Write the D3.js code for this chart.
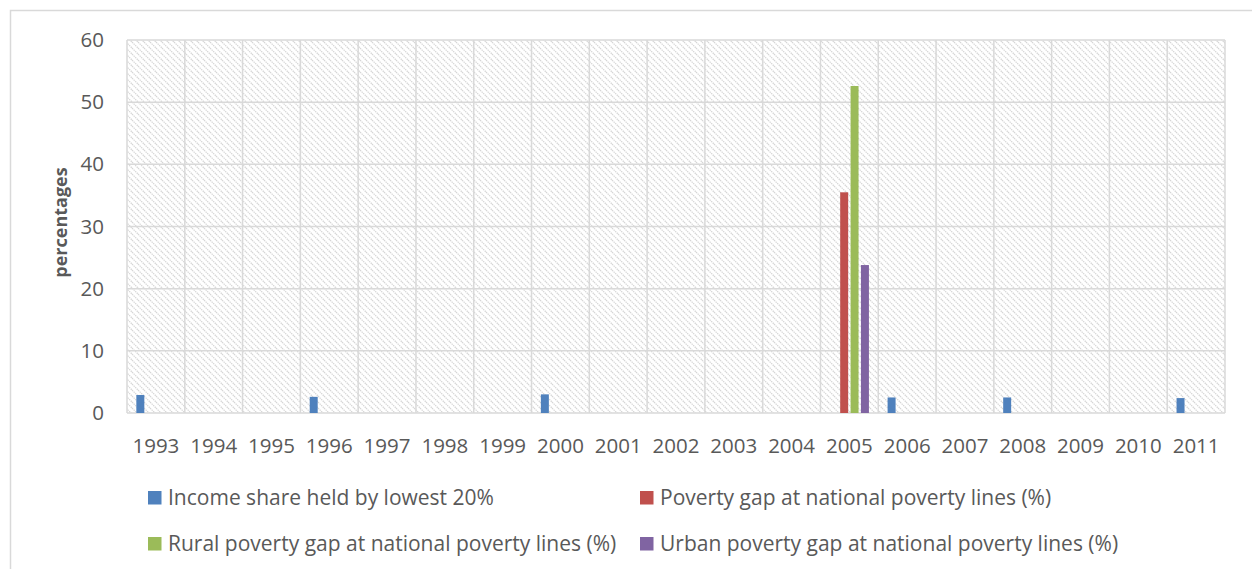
<!DOCTYPE html>
<html>
<head>
<meta charset="utf-8">
<script src="https://cdn.jsdelivr.net/npm/d3@7"></script>
<style>
  html, body { margin: 0; padding: 0; background: #fff; }
  svg { display: block; }
  text { font-family: "Open Sans", "Noto Sans", sans-serif; fill: #595959; }
</style>
</head>
<body>
<svg id="chart" width="1252" height="569"></svg>
<script>
// Years on the category axis
const years = ["1993","1994","1995","1996","1997","1998","1999","2000","2001","2002",
               "2003","2004","2005","2006","2007","2008","2009","2010","2011"];

// Series names and colours
const seriesNames = [
  "Income share held by lowest 20%",
  "Poverty gap at national poverty lines (%)",
  "Rural poverty gap at national poverty lines (%)",
  "Urban poverty gap at national poverty lines (%)"
];
const seriesColors = ["#4f81bd", "#c0504d", "#9bbb59", "#8064a2"];

// Values per year (null = no observation)
const incomeShareLowest20 = [2.9,null,null,2.6,null,null,null,3.0,null,null,null,null,null,2.5,null,2.5,null,null,2.4];
const povertyGapNational  = [null,null,null,null,null,null,null,null,null,null,null,null,35.5,null,null,null,null,null,null];
const povertyGapRural     = [null,null,null,null,null,null,null,null,null,null,null,null,52.6,null,null,null,null,null,null];
const povertyGapUrban     = [null,null,null,null,null,null,null,null,null,null,null,null,23.8,null,null,null,null,null,null];

const yTicks = [0, 10, 20, 30, 40, 50, 60];

const seriesValues = [incomeShareLowest20, povertyGapNational, povertyGapRural, povertyGapUrban];

const svg = d3.select("#chart");
const W = 1252, H = 569;
const plot = { left: 127, top: 40, right: 1225, bottom: 413 };
const FONT = 20.5;

// Outer chart frame (extends past the canvas on right/bottom)
svg.append("rect")
  .attr("x", 10.5).attr("y", 10.5)
  .attr("width", W + 20).attr("height", H + 20)
  .attr("fill", "#fff").attr("stroke", "#d9d9d9").attr("stroke-width", 1.5);

// Diagonal hatch fill for the plot area
const defs = svg.append("defs");
const pat = defs.append("pattern")
  .attr("id", "hatch")
  .attr("patternUnits", "userSpaceOnUse")
  .attr("width", 6).attr("height", 6);
pat.append("rect").attr("width", 6).attr("height", 6).attr("fill", "#fff");
pat.append("path")
  .attr("d", "M-1.5,-1.5 L7.5,7.5 M-1.5,4.5 L1.5,7.5 M4.5,-1.5 L7.5,1.5")
  .attr("stroke", "#d6d6d6").attr("stroke-width", 1.3)
  .attr("stroke-dasharray", "1.4,0.8");

const x0 = d3.scaleBand().domain(years).range([plot.left, plot.right]).padding(0);
const x1 = d3.scaleBand().domain(d3.range(seriesNames.length))
  .range([0, x0.bandwidth()]).paddingInner(0.23).paddingOuter(0.9);
const y = d3.scaleLinear().domain([0, 60]).range([plot.bottom, plot.top]);

svg.append("rect")
  .attr("x", plot.left).attr("y", plot.top)
  .attr("width", plot.right - plot.left).attr("height", plot.bottom - plot.top)
  .attr("fill", "url(#hatch)");

// Gridlines
const grid = svg.append("g").attr("stroke", "#d9d9d9").attr("stroke-width", 1.5);
grid.selectAll("line.h").data(yTicks).join("line")
  .attr("x1", plot.left).attr("x2", plot.right)
  .attr("y1", d => y(d)).attr("y2", d => y(d));
grid.selectAll("line.v").data(years.concat(["end"])).join("line")
  .attr("x1", (d, i) => i < years.length ? x0(d) : plot.right)
  .attr("x2", (d, i) => i < years.length ? x0(d) : plot.right)
  .attr("y1", plot.top).attr("y2", plot.bottom);

// Bars
const bars = svg.append("g");
seriesValues.forEach((vals, s) => {
  bars.selectAll(null)
    .data(years.map((yr, i) => ({ yr, v: vals[i] })).filter(d => d.v != null))
    .join("rect")
    .attr("x", d => x0(d.yr) + x1(s))
    .attr("width", x1.bandwidth())
    .attr("y", d => y(d.v))
    .attr("height", d => y(0) - y(d.v))
    .attr("fill", seriesColors[s]);
});

// Y axis
const yAxis = svg.append("g")
  .attr("transform", `translate(${plot.left - 23},0)`)
  .call(d3.axisLeft(y).tickValues(yTicks).tickSize(0).tickPadding(0));
yAxis.select(".domain").remove();
yAxis.selectAll("text").attr("font-size", FONT).attr("fill", "#595959")
  .style("font-family", "'Open Sans', sans-serif");

// X axis
const xAxis = svg.append("g")
  .attr("transform", `translate(0,${plot.bottom + 25})`)
  .call(d3.axisBottom(x0).tickSize(0).tickPadding(0));
xAxis.select(".domain").remove();
xAxis.selectAll("text").attr("font-size", FONT).attr("fill", "#595959")
  .attr("dy", "0.71em")
  .style("font-family", "'Open Sans', sans-serif");

// Y axis title
svg.append("text")
  .attr("transform", `translate(67,${(plot.top + plot.bottom) / 2 - 4}) rotate(-90)`)
  .attr("text-anchor", "middle")
  .attr("font-size", 18).attr("font-weight", "bold")
  .attr("fill", "#595959")
  .text("percentages");

// Legend (2 x 2)
const legendPos = [[148, 498], [640, 498], [148, 544], [640, 544]];
const legend = svg.append("g");
seriesNames.forEach((name, i) => {
  const [lx, ly] = legendPos[i];
  legend.append("rect")
    .attr("x", lx).attr("y", ly - 7).attr("width", 13.5).attr("height", 13.5)
    .attr("fill", seriesColors[i]);
  legend.append("text")
    .attr("x", lx + 20).attr("y", ly).attr("dy", "0.35em")
    .attr("font-size", 21).text(name);
});
</script>
</body>
</html>
